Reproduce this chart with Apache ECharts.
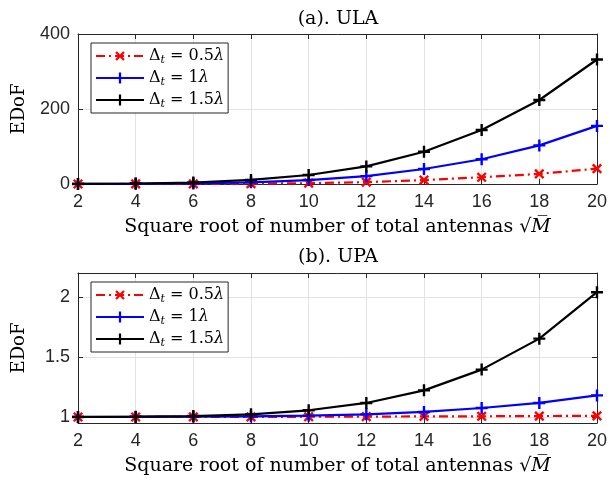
<!DOCTYPE html>
<html>
<head>
<meta charset="utf-8">
<script src="https://cdn.jsdelivr.net/npm/echarts@6/dist/echarts.min.js"></script>
<style>
  html, body { margin: 0; padding: 0; background: #fff; }
  #chart { width: 610px; height: 483px; }
</style>
</head>
<body>
<div id="chart"></div>
<script>
// x axis: square root of number of total antennas
const xValues = [2, 4, 6, 8, 10, 12, 14, 16, 18, 20]

// (a) ULA
const ulaHalf = [0, 0.1, 0.3, 0.8, 2.2, 5, 10.5, 18, 27, 41]
const ulaOne = [0.1, 0.5, 1.5, 4.5, 10.5, 21, 40, 66, 103, 155]
const ulaOneHalf = [0.3, 1.3, 4, 11, 24, 47, 86, 144, 224, 332]
const ulaTicks = [0, 200, 400]

// (b) UPA
const upaHalf = [1.0, 1.0, 1.001, 1.001, 1.002, 1.003, 1.005, 1.006, 1.008, 1.01]
const upaOne = [1.0, 1.001, 1.002, 1.005, 1.011, 1.022, 1.042, 1.075, 1.117, 1.18]
const upaOneHalf = [1.001, 1.003, 1.008, 1.022, 1.056, 1.117, 1.222, 1.395, 1.653, 2.04]
const upaTicks = [1, 1.5, 2]

const legendNames = ['half', 'one', 'onehalf']
const legendLabels = {
  half: '{d|Δ}{s|t}{n| = 0.5}{l|λ}',
  one: '{d|Δ}{s|t}{n| = 1}{l|λ}',
  onehalf: '{d|Δ}{s|t}{n| = 1.5}{l|λ}'
}

const axisColor = '#262626'
const serif = '"DejaVu Serif", "Liberation Serif", serif'
const sans = '"Liberation Sans", Arial, sans-serif'
const plusPath = 'path://M4,0H6V4H10V6H6V10H4V6H0V4H4Z'

function pairs(ys) {
  return xValues.map((x, i) => [x, ys[i]])
}

function makeSeries(idx, half, one, onehalf) {
  const styles = [
    { name: 'half', data: half, color: '#ff0000', type: [9, 4, 2, 4], rot: 45, size: 12 },
    { name: 'one', data: one, color: '#0000ff', type: 'solid', rot: 0, size: 12 },
    { name: 'onehalf', data: onehalf, color: '#000000', type: 'solid', rot: 0, size: 12 }
  ]
  return styles.map(s => ({
    name: s.name,
    type: 'line',
    xAxisIndex: idx * 2,
    yAxisIndex: idx * 2,
    data: pairs(s.data),
    symbol: plusPath,
    symbolSize: s.size,
    symbolRotate: s.rot,
    showAllSymbol: true,
    animation: false,
    lineStyle: { color: s.color, width: 2.2, type: s.type },
    itemStyle: { color: s.color },
    emphasis: { disabled: true }
  }))
}

function xAxes(gridIndex) {
  return [
    {
      type: 'value',
      gridIndex: gridIndex,
      position: 'bottom',
      min: 2,
      max: 20,
      interval: 2,
      name: 'Square root of number of total antennas {s|√}{m|M\u0305}',
      nameLocation: 'middle',
      nameGap: 34,
      nameTextStyle: {
        fontFamily: serif,
        fontSize: 19,
        color: '#000',
        rich: {
          s: { fontFamily: serif, fontSize: 19, color: '#000' },
          m: { fontFamily: serif, fontSize: 19, fontStyle: 'italic', color: '#000' }
        }
      },
      axisLine: { onZero: false, lineStyle: { color: axisColor, width: 1 } },
      axisTick: { inside: true, length: 5, lineStyle: { color: axisColor } },
      axisLabel: { color: axisColor, fontFamily: sans, fontSize: 18, margin: 9 },
      splitLine: { show: true, lineStyle: { color: '#e3e3e3', width: 1 } }
    },
    {
      type: 'value',
      gridIndex: gridIndex,
      position: 'top',
      min: 2,
      max: 20,
      interval: 2,
      axisLine: { onZero: false, lineStyle: { color: axisColor, width: 1 } },
      axisTick: { inside: true, length: 5, lineStyle: { color: axisColor } },
      axisLabel: { show: false },
      splitLine: { show: false }
    }
  ]
}

function yAxes(gridIndex, min, max, ticks) {
  return [
    {
      type: 'value',
      gridIndex: gridIndex,
      position: 'left',
      min: min,
      max: max,
      name: 'EDoF',
      nameLocation: 'middle',
      nameGap: 50,
      nameTextStyle: { fontFamily: serif, fontSize: 18, color: '#000' },
      axisLine: { onZero: false, lineStyle: { color: axisColor, width: 1 } },
      axisTick: { inside: true, length: 5, customValues: ticks, lineStyle: { color: axisColor } },
      axisLabel: { color: axisColor, fontFamily: sans, fontSize: 18, margin: 8, customValues: ticks },
      splitLine: { show: true, lineStyle: { color: '#e3e3e3', width: 1 } }
    },
    {
      type: 'value',
      gridIndex: gridIndex,
      position: 'right',
      min: min,
      max: max,
      axisLine: { onZero: false, lineStyle: { color: axisColor, width: 1 } },
      axisTick: { inside: true, length: 5, customValues: ticks, lineStyle: { color: axisColor } },
      axisLabel: { show: false, customValues: ticks },
      splitLine: { show: false }
    }
  ]
}

function legendAt(top) {
  return {
    data: legendNames,
    orient: 'vertical',
    left: 91,
    top: top,
    itemWidth: 48,
    itemHeight: 14,
    itemGap: 2,
    padding: [3, 4, 3, 4],
    backgroundColor: '#fff',
    borderColor: axisColor,
    borderWidth: 1,
    borderRadius: 0,
    selectedMode: false,
    formatter: name => legendLabels[name],
    textStyle: {
      fontFamily: serif,
      fontSize: 16,
      color: '#000',
      lineHeight: 20,
      rich: {
        d: { fontFamily: serif, fontSize: 16, color: '#000' },
        s: { fontFamily: serif, fontSize: 11, fontStyle: 'italic', color: '#000', verticalAlign: 'bottom', padding: [6, 0, 0, 0] },
        n: { fontFamily: serif, fontSize: 16, color: '#000' },
        l: { fontFamily: serif, fontSize: 16, fontStyle: 'italic', color: '#000' }
      }
    }
  }
}

const chart = echarts.init(document.getElementById('chart'), null, { renderer: 'canvas' })

const option = {
  backgroundColor: '#fff',
  animation: false,
  grid: [
    { left: 78, right: 12, top: 34, height: 150, show: false },
    { left: 78, right: 12, top: 273, height: 150, show: false }
  ],
  xAxis: [...xAxes(0), ...xAxes(1)],
  yAxis: [...yAxes(0, 0, 400, ulaTicks), ...yAxes(1, 0.95, 2.2, upaTicks)],
  legend: [legendAt(43), legendAt(282)],
  graphic: [
    {
      type: 'text', x: 338, y: 19,
      style: { text: '(a). ULA', align: 'center', verticalAlign: 'middle', fill: '#000', font: '19px ' + serif }
    },
    {
      type: 'text', x: 338, y: 257,
      style: { text: '(b). UPA', align: 'center', verticalAlign: 'middle', fill: '#000', font: '19px ' + serif }
    }
  ],
  series: [
    ...makeSeries(0, ulaHalf, ulaOne, ulaOneHalf),
    ...makeSeries(1, upaHalf, upaOne, upaOneHalf)
  ]
}

chart.setOption(option)
</script>
</body>
</html>
